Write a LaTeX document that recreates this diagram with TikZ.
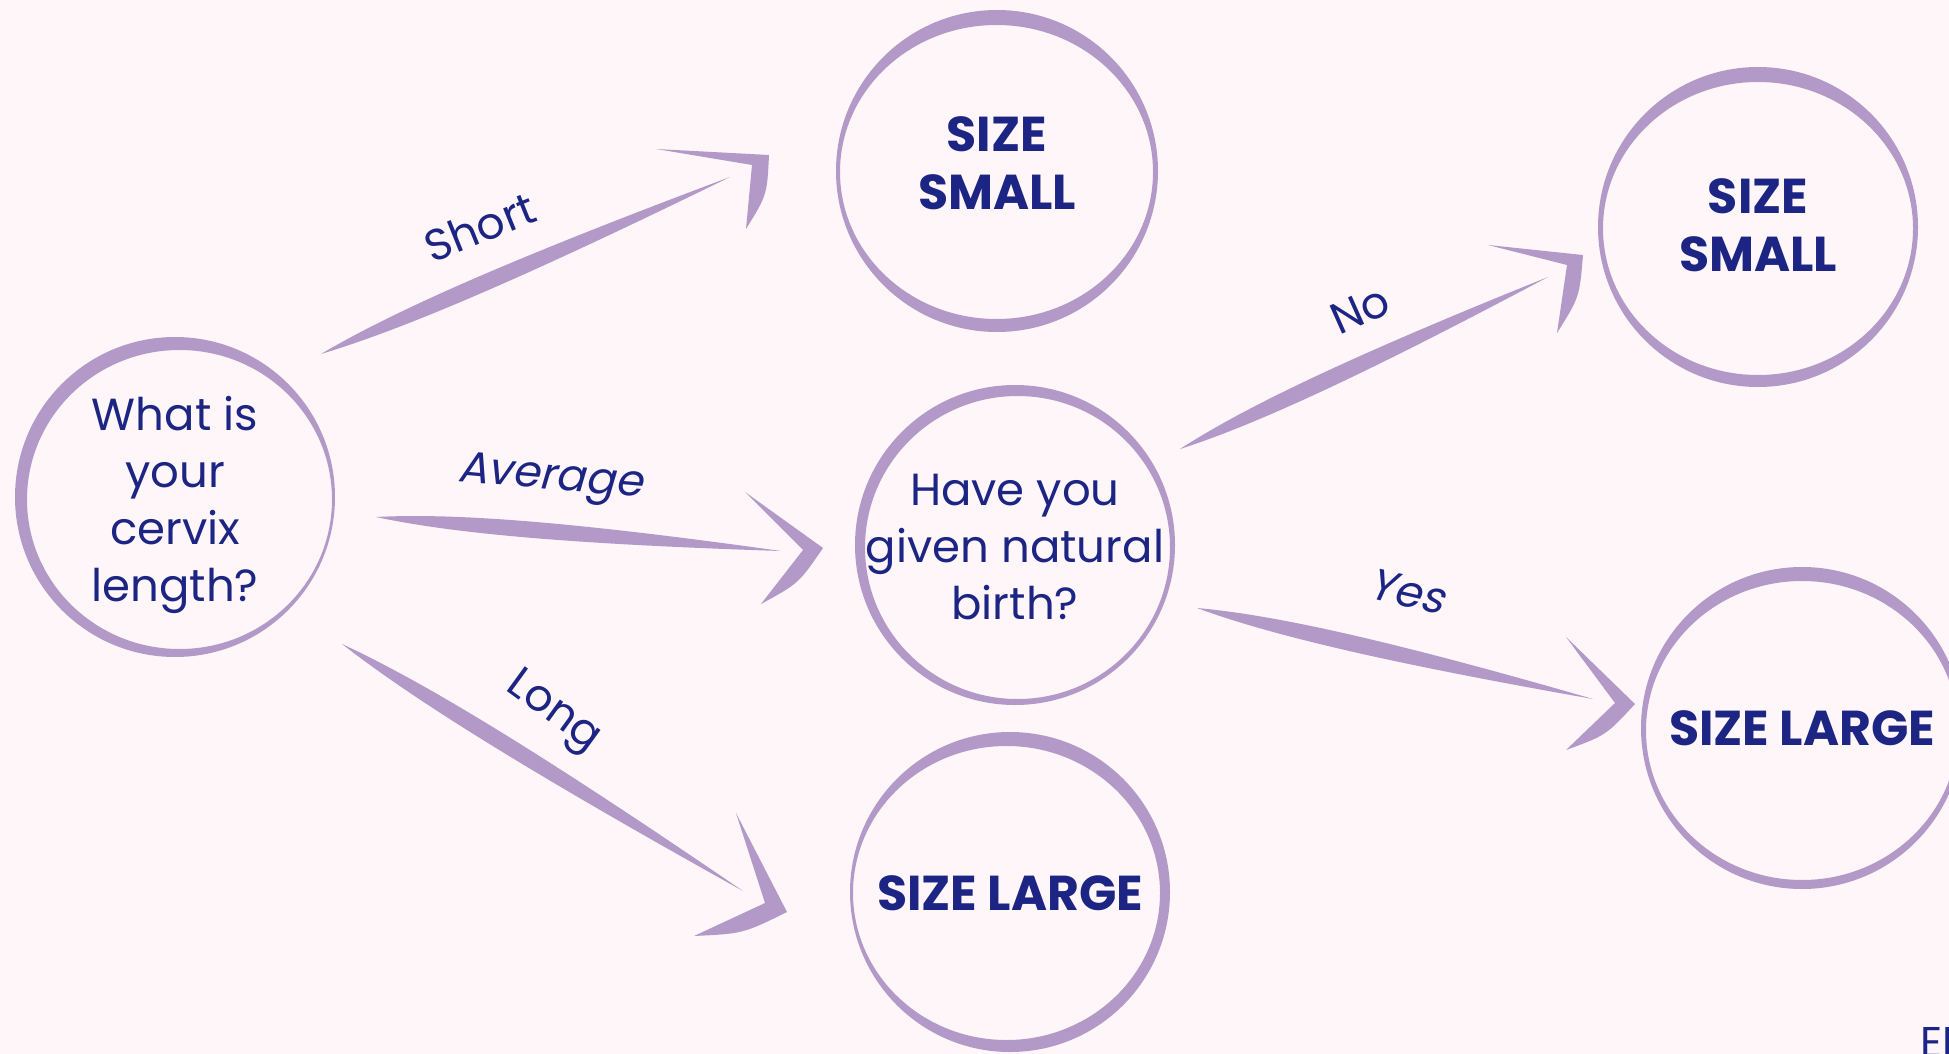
\documentclass[tikz,border=0pt]{standalone}
\usepackage{fontspec}
\setmainfont{Poppins}
\usetikzlibrary{calc}
\definecolor{bgpink}{HTML}{FEF6F8}
\definecolor{lilac}{HTML}{B399C8}
\definecolor{navy}{HTML}{1C2583}
\tikzset{
	bubble/.style={circle, minimum size=160pt, inner sep=0pt, align=center, text=navy, font=\fontsize{22.5}{28.5}\selectfont},
	answer/.style={bubble, font=\bfseries\fontsize{24.5}{29}\selectfont},
	lbl/.style={text=navy, inner sep=0pt, font=\fontsize{22}{26}\selectfont}
}
\begin{document}
\begin{tikzpicture}[x=0.5pt, y=-0.5pt, line join=round, line cap=round]
				\fill[bgpink] (0,0) rectangle (1949,1054);
				\useasboundingbox (0,0) rectangle (1949,1054);
				\node[bubble] (Q) at (175,505) {What is\\your\\cervix\\length?};
				\node[bubble] (H) at (1015,547) {Have you\\given natural\\birth?};
				\node[answer] (S) at (997,163) {SIZE\\SMALL};
				\node[answer] (T) at (1758,225) {SIZE\\SMALL};
				\node[answer] (L) at (1010,893) {SIZE LARGE};
				\node[answer] (G) at (1802,728) {SIZE LARGE};
				\foreach \n/\c/\r/\ox/\oy/\wx/\wy in {Q/-8/160/4.5/2.5/7.5/10.5, H/-2/160/2.5/2.5/7.5/8.5, S/8/161/-0.5/1/4.5/14, T/2/160/0/1.5/5/13.5, L/-1/160/-3.5/1/6.5/13, G/0/161/0/2.5/5/11.5}
				\fill[lilac, even odd rule] ([yshift=-\c*0.5pt]\n.center) circle (\r) ([shift={(\ox,\c+\oy)}]\n.center) ellipse ({\r-\wx} and {\r-\wy});
				\path 
				(321,354) coordinate (a1) (730,177) coordinate (b1)
				(376,517) coordinate (a2) (781,551) coordinate (b2)
				(342,644) coordinate (a3) (743,891) coordinate (b3)
				(1180,449) coordinate (a4) (1548,277) coordinate (b4)
				(1197,608) coordinate (a5) (1593,699) coordinate (b5)
				(769,155) coordinate (t1) (656,149) coordinate (u1) (746,229) coordinate (v1) (752,165) coordinate (w1)
				(823,548) coordinate (t2) (745,492) coordinate (u2) (761,604) coordinate (v2) (803,550) coordinate (w2)
				(787,912) coordinate (t3) (736,813) coordinate (u3) (694,936) coordinate (v3) (765,903) coordinate (w3)
				(1583,255) coordinate (t4) (1488,245) coordinate (u4) (1557,333) coordinate (v4) (1567,265) coordinate (w4)
				(1635,704) coordinate (t5) (1566,637) coordinate (u5) (1566,750) coordinate (v5) (1615,703) coordinate (w5);
				\foreach \i in {1,...,5} {
					\fill[lilac] (a\i) .. controls ($(a\i)!.2!(b\i)!5.6pt!90:(b\i)$) and ($(a\i)!.5!(b\i)!5.6pt!90:(b\i)$) .. (b\i) .. controls ($(a\i)!.5!(b\i)!5.2pt!-90:(b\i)$) and ($(a\i)!.2!(b\i)!5.2pt!-90:(b\i)$) .. (a\i) -- cycle;
					\fill[lilac] (u\i) -- (t\i) .. controls ($(t\i)!.5!(v\i)!5pt!90:(v\i)$) .. (v\i) -- (w\i) -- cycle;
				}
				\node[lbl, rotate=22] (s1) at (480,227) {Short};
				\node[lbl, rotate=-5, xslant=0.2] (s2) at (552,480) {Average};
				\node[lbl, rotate=-36] (s3) at (553,713) {Long};
				\node[lbl, rotate=24] (s4) at (1360,310) {No};
				\node[lbl, rotate=-13, xslant=0.2] (s5) at (1410,592) {Yes};
				\node[lbl, anchor=base west, font=\fontsize{21.5}{25}\selectfont] (en) at (1920,1057) {EN};
			\end{tikzpicture}
\end{document}
